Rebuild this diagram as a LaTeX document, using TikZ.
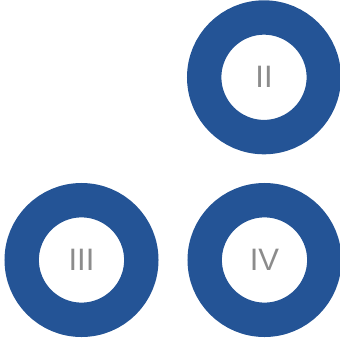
\documentclass[tikz,border=0pt]{standalone}
\usepackage{fontspec}
\setmainfont{Liberation Sans}
\usepackage{xcolor}
\usepackage{tikz}
\usetikzlibrary{positioning}
\definecolor{ringblue}{RGB}{36,84,150}
\definecolor{numgray}{RGB}{140,140,140}

\begin{document}
\begin{tikzpicture}[x=1pt,y=1pt]
    \useasboundingbox (0,0) rectangle (340,338);
    \tikzset{ring/.style={circle,draw=ringblue,line width=34.4pt,inner sep=0pt,
            minimum size=119.6pt,text=numgray,font=\fontsize{31}{31}\selectfont}}
    \foreach \name/\x/\y/\numeral in {
      ringII/264/260.7/{II},
      ringIII/81.5/78/{III},
      ringIV/264.5/78/{IV}}{
      \node[ring] (\name) at (\x,\y) {\numeral};
    }
  \end{tikzpicture}
\end{document}
